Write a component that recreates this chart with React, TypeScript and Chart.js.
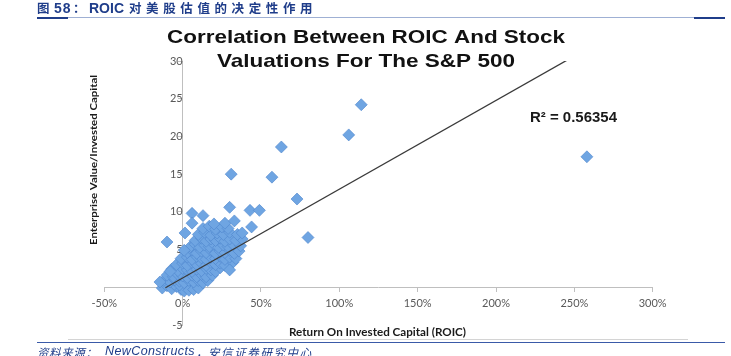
import React, { useEffect, useRef } from 'react';
import { Chart, registerables } from 'chart.js';

Chart.register(...registerables);

// ---- data ----
const chartTitle = ['Correlation Between ROIC And Stock', 'Valuations For The S&P 500'];
const xAxisTitle = 'Return On Invested Capital (ROIC)';
const yAxisTitle = 'Enterprise Value/Invested Capital';
const rSquaredLabel = 'R\u00B2 = 0.56354';

const xMin = -0.5;
const xMax = 3.0;
const xStep = 0.5;
const yMin = -5;
const yMax = 30;
const yStep = 5;

// [ROIC, EV/IC] – isolated companies
const outliers: [number, number][] = [
  [2.58, 17.3], [1.14, 24.2], [1.06, 20.2], [0.63, 18.6], [0.57, 14.6], [0.31, 15.0],
  [0.73, 11.7], [0.80, 6.6], [0.30, 10.6], [0.43, 10.2], [0.49, 10.2], [0.06, 9.8],
  [0.13, 9.5], [0.06, 8.5], [0.33, 8.8], [0.44, 8.0], [0.38, 7.2], [0.015, 7.2],
  [-0.10, 6.0], [0.01, 4.9], [0.30, 2.3], [-0.08, 2.1], [-0.145, 0.7],
];

// [ROIC, EV/IC] – the dense main group
const cluster: [number, number][] = [
  [-0.13, -0.1], [-0.10, 0.2], [-0.07, -0.2], [-0.04, 0.1], [-0.01, -0.3], [0.02, 0.0], [0.05, 0.2],
  [0.08, 0.1], [0.11, 0.3], [0.01, -0.5], [0.04, -0.4], [0.07, -0.3], [0.10, -0.1], [-0.02, 0.3],
  [-0.12, 0.9], [-0.08, 0.7], [-0.05, 1.0], [-0.02, 0.8], [0.01, 0.6], [0.04, 0.9], [0.07, 0.7],
  [0.10, 0.9], [0.13, 0.6], [0.16, 0.9],
  [-0.10, 1.6], [-0.06, 1.4], [-0.03, 1.7], [0.00, 1.5], [0.03, 1.3], [0.06, 1.6], [0.09, 1.4],
  [0.12, 1.7], [0.15, 1.4], [0.19, 1.6],
  [-0.07, 2.4], [-0.03, 2.2], [0.00, 2.5], [0.03, 2.3], [0.06, 2.1], [0.09, 2.4], [0.12, 2.2],
  [0.15, 2.5], [0.18, 2.3], [0.21, 2.1], [0.24, 2.6],
  [-0.04, 3.0], [0.00, 3.2], [0.03, 2.9], [0.06, 3.3], [0.09, 3.0], [0.12, 3.2], [0.15, 2.9],
  [0.18, 3.3], [0.21, 3.0], [0.24, 3.2], [0.27, 2.9], [0.32, 3.3],
  [-0.01, 3.8], [0.03, 4.0], [0.06, 3.7], [0.09, 4.1], [0.12, 3.9], [0.15, 3.7], [0.18, 4.0],
  [0.21, 3.8], [0.24, 4.1], [0.27, 3.7], [0.30, 4.0], [0.34, 3.8],
  [0.03, 4.6], [0.06, 4.9], [0.09, 4.5], [0.12, 4.8], [0.15, 4.6], [0.18, 4.9], [0.21, 4.5],
  [0.24, 4.8], [0.27, 4.6], [0.30, 4.9], [0.33, 4.5], [0.36, 4.8],
  [0.05, 5.4], [0.08, 5.7], [0.11, 5.3], [0.14, 5.6], [0.17, 5.4], [0.20, 5.7], [0.23, 5.3],
  [0.26, 5.6], [0.29, 5.4], [0.32, 5.7], [0.37, 5.5],
  [0.08, 6.2], [0.12, 6.5], [0.15, 6.1], [0.18, 6.4], [0.21, 6.2], [0.24, 6.5], [0.27, 6.1],
  [0.30, 6.4], [0.34, 6.2], [0.38, 6.4],
  [0.10, 7.0], [0.14, 7.3], [0.18, 6.9], [0.22, 7.2], [0.26, 7.0], [0.30, 7.3], [0.35, 7.0],
  [0.13, 7.8], [0.17, 8.1], [0.21, 7.7], [0.25, 8.0], [0.29, 7.8],
  [0.20, 8.4], [0.27, 8.5],
];

// linear trend line end points [ROIC, EV/IC]
const trendLine: [number, number][] = [[-0.11, -0.06], [2.58, 31.6]];

// ---- helpers ----
function drawFitted(
  ctx: CanvasRenderingContext2D,
  text: string,
  font: string,
  x: number,
  y: number,
  width: number,
  color: string,
  align: 'center' | 'left',
  rotate = false,
) {
  ctx.save();
  ctx.font = font;
  ctx.fillStyle = color;
  const m = ctx.measureText(text).width;
  ctx.translate(x, y);
  if (rotate) ctx.rotate(-Math.PI / 2);
  ctx.scale(width / m, 1);
  ctx.textAlign = align;
  ctx.textBaseline = 'alphabetic';
  ctx.fillText(text, 0, 0);
  ctx.restore();
}

const labelsPlugin = {
  id: 'excelLabels',
  afterDraw(chart: any) {
    const ctx: CanvasRenderingContext2D = chart.ctx;
    const titleFont = 'bold 19px "Liberation Sans", Arial, sans-serif';
    drawFitted(ctx, chartTitle[0], titleFont, 366, 43.3, 398, '#111111', 'center');
    drawFitted(ctx, chartTitle[1], titleFont, 366, 66.5, 298, '#111111', 'center');
    drawFitted(ctx, rSquaredLabel, 'bold 14px "Liberation Sans", Arial, sans-serif', 530, 121.5, 87, '#1a1a1a', 'left');
    drawFitted(ctx, xAxisTitle, 'bold 11px Lato, sans-serif', 377.5, 336, 177, '#1a1a1a', 'center');
    drawFitted(ctx, yAxisTitle, 'bold 10px Lato, sans-serif', 97, 160, 170, '#1a1a1a', 'center', true);
  },
};

export default function App() {
  const canvasRef = useRef<HTMLCanvasElement | null>(null);

  useEffect(() => {
    const canvas = canvasRef.current;
    if (!canvas) return;
    const tickFont = { family: 'Lato, sans-serif', size: 11 };
    const markerFill = '#6fa5e2';
    const markerEdge = 'rgba(78,132,204,0.75)';
    const chart = new Chart(canvas, {
      type: 'scatter',
      data: {
        datasets: [
          {
            type: 'line',
            label: 'Trend',
            data: trendLine.map(([x, y]) => ({ x, y })),
            borderColor: '#3a3a3a',
            borderWidth: 1.3,
            pointRadius: 0,
            fill: false,
            order: 0,
          } as any,
          {
            label: 'Outliers',
            data: outliers.map(([x, y]) => ({ x, y })),
            pointStyle: 'rectRot',
            pointRadius: 6,
            backgroundColor: markerFill,
            borderColor: markerEdge,
            borderWidth: 0.8,
            order: 1,
          },
          {
            label: 'Cluster',
            data: cluster.map(([x, y]) => ({ x, y })),
            pointStyle: 'rectRot',
            pointRadius: 6,
            backgroundColor: markerFill,
            borderColor: markerEdge,
            borderWidth: 0.8,
            order: 2,
          },
        ],
      },
      options: {
        animation: false,
        responsive: false,
        maintainAspectRatio: false,
        events: [],
        layout: { padding: { left: 104.3, right: 78.3, top: 61, bottom: 31 } },
        plugins: { legend: { display: false }, tooltip: { enabled: false }, title: { display: false } },
        scales: {
          x: {
            type: 'linear',
            position: { y: 0 } as any,
            min: xMin,
            max: xMax,
            ticks: {
              stepSize: xStep,
              autoSkip: false,
              maxRotation: 0,
              font: tickFont,
              color: '#595959',
              padding: 6,
              callback: (v: any) => Math.round(Number(v) * 100) + '%',
            },
            grid: { display: true, drawOnChartArea: false, drawTicks: true, tickLength: 4, color: '#bfbfbf' },
            border: { display: true, color: '#bfbfbf', width: 1 },
          },
          y: {
            type: 'linear',
            position: { x: 0 } as any,
            min: yMin,
            max: yMax,
            ticks: { stepSize: yStep, font: tickFont, color: '#595959', padding: 7 },
            grid: { display: true, drawOnChartArea: false, drawTicks: true, tickLength: 4, color: '#bfbfbf' },
            border: { display: true, color: '#bfbfbf', width: 1 },
          },
        },
      },
      plugins: [labelsPlugin],
    });
    return () => chart.destroy();
  }, []);

  const blue = '#1f3d8a';
  const cjk = '"Noto Sans CJK SC", sans-serif';
  const latin = '"Liberation Sans", Arial, sans-serif';

  return (
    <div style={{ position: 'fixed', left: 0, top: 0, width: 731, height: 356, background: '#fff', overflow: 'hidden' }}>
      <canvas ref={canvasRef} width={731} height={356} style={{ position: 'absolute', left: 0, top: 0, width: 731, height: 356 }} />
      {/* header */}
      <span style={{ position: 'absolute', left: 37, top: 0, lineHeight: '16px', fontFamily: cjk, fontWeight: 700, fontSize: 12.5, color: blue, whiteSpace: 'nowrap' }}>图</span>
      <span style={{ position: 'absolute', left: 54, top: 0, lineHeight: '16px', fontFamily: latin, fontWeight: 700, fontSize: 14, letterSpacing: 1, color: blue, whiteSpace: 'nowrap' }}>58</span>
      <span style={{ position: 'absolute', left: 73, top: 0, lineHeight: '16px', fontFamily: cjk, fontWeight: 700, fontSize: 12.5, color: blue, whiteSpace: 'nowrap' }}>：</span>
      <span style={{ position: 'absolute', left: 89, top: 0, lineHeight: '16px', fontFamily: latin, fontWeight: 700, fontSize: 14, color: blue, whiteSpace: 'nowrap' }}>ROIC</span>
      <span style={{ position: 'absolute', left: 129, top: 0, lineHeight: '16px', fontFamily: cjk, fontWeight: 700, fontSize: 12.5, letterSpacing: 4.6, color: blue, whiteSpace: 'nowrap' }}>对美股估值的决定性作用</span>
      <div style={{ position: 'absolute', left: 37, top: 17, width: 688, height: 1, background: '#9fb0d4' }} />
      <div style={{ position: 'absolute', left: 37, top: 17, width: 31, height: 2, background: blue }} />
      <div style={{ position: 'absolute', left: 694, top: 17, width: 31, height: 2, background: blue }} />
      {/* chart frame bottom & footer rule */}
      <div style={{ position: 'absolute', left: 68, top: 339, width: 620, height: 1, background: '#d4d4d4' }} />
      <div style={{ position: 'absolute', left: 37, top: 342, width: 688, height: 1, background: '#3a5aa8' }} />
      {/* footer */}
      <span style={{ position: 'absolute', left: 37, top: 345, lineHeight: '14px', fontFamily: cjk, fontStyle: 'italic', fontSize: 11.5, letterSpacing: 0.6, color: blue, whiteSpace: 'nowrap' }}>资料来源：</span>
      <span style={{ position: 'absolute', left: 105, top: 344, lineHeight: '14px', fontFamily: latin, fontStyle: 'italic', fontSize: 12.5, letterSpacing: 0.4, color: blue, whiteSpace: 'nowrap' }}>NewConstructs</span>
      <span style={{ position: 'absolute', left: 196, top: 345, lineHeight: '14px', fontFamily: cjk, fontStyle: 'italic', fontSize: 11.5, color: blue, whiteSpace: 'nowrap' }}>，</span>
      <span style={{ position: 'absolute', left: 208, top: 345, lineHeight: '14px', fontFamily: cjk, fontStyle: 'italic', fontSize: 11.5, letterSpacing: 1.6, color: blue, whiteSpace: 'nowrap' }}>安信证券研究中心</span>
    </div>
  );
}
